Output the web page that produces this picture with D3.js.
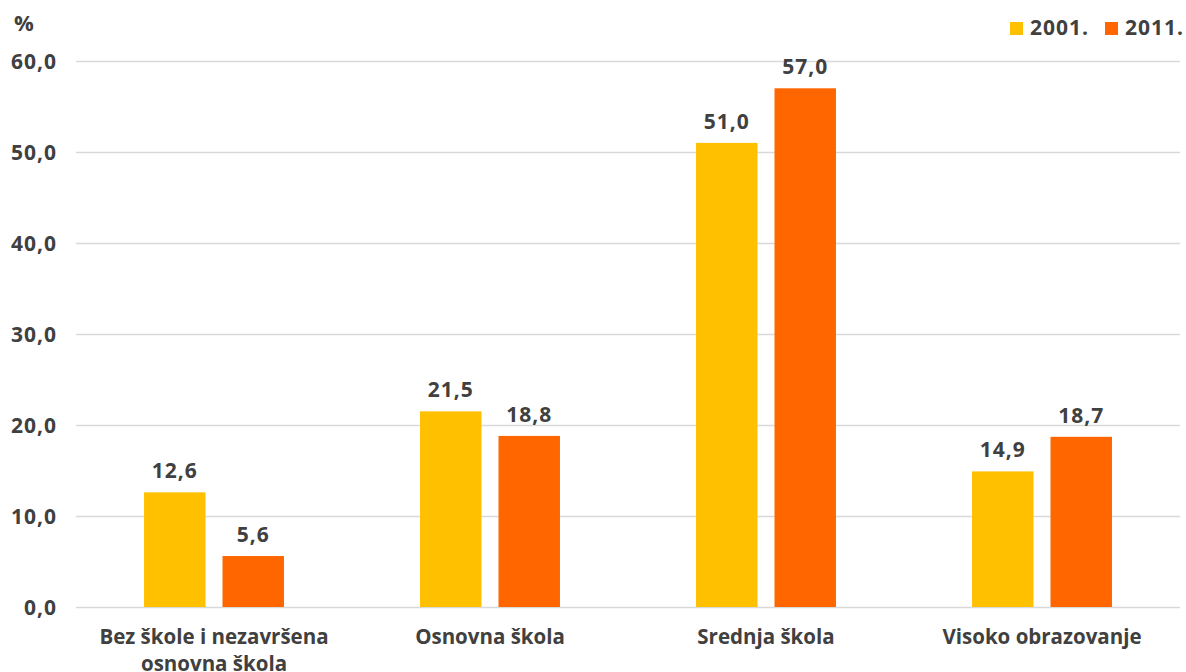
<!DOCTYPE html>
<html><head><meta charset="utf-8">
<script src="https://cdn.jsdelivr.net/npm/d3@7"></script>
<style>
body{margin:0;background:#fff;}
text{font-family:"Open Sans","DejaVu Sans",sans-serif;font-weight:700;fill:#404040;}
.num{font-size:21px;letter-spacing:1px;}
.cat{font-size:20.5px;}
</style></head>
<body><svg id="c" width="1186" height="672"></svg>
<script>
const categories = [["Bez škole i nezavršena","osnovna škola"],["Osnovna škola"],["Srednja škola"],["Visoko obrazovanje"]];
const series = ["2001.","2011."];
const values2001 = [12.6, 21.5, 51.0, 14.9];
const values2011 = [5.6, 18.8, 57.0, 18.7];
const yTicks = [0,10,20,30,40,50,60];
const colors = ["#FFC000","#FF6600"];

(function(){
const svg = d3.select("#c");
const pLeft = 76, pRight = 1180, pTop = 61, pBottom = 607;
const y = d3.scaleLinear().domain([0,60]).range([pBottom, pTop]);
const x0 = d3.scaleBand().domain(d3.range(categories.length)).range([pLeft,pRight]).paddingInner(0.493).paddingOuter(0.2465);
const x1 = d3.scaleBand().domain(series).range([0,x0.bandwidth()]).paddingInner(0.2166);
const fmt = v => d3.format(".1f")(v).replace(".",",");

const yAxis = d3.axisLeft(y).tickValues(yTicks).tickSize(-(pRight-pLeft)).tickFormat(fmt);
const g = svg.append("g").attr("transform",`translate(${pLeft},0)`).call(yAxis);
g.select(".domain").remove();
g.selectAll(".tick line").attr("stroke","#d9d9d9").attr("stroke-width",1.5);
g.selectAll(".tick text").attr("class","num").attr("x",-19).attr("dy","0.36em").attr("font-size",null).attr("font-family",null).attr("fill",null);
g.attr("font-size",null).attr("font-family",null);

svg.append("text").attr("class","num").attr("x",14).attr("y",31).style("font-size","22px").text("%");

const data = series.map((s,i)=>({s, vals: i===0?values2001:values2011, c: colors[i]}));
data.forEach(d=>{
  svg.append("g").selectAll("rect").data(d.vals).join("rect")
    .attr("x",(v,i)=>x0(i)+x1(d.s)).attr("width",x1.bandwidth())
    .attr("y",v=>y(v)).attr("height",v=>y(0)-y(v)).attr("fill",d.c);
  svg.append("g").selectAll("text").data(d.vals).join("text").attr("class","num")
    .attr("x",(v,i)=>x0(i)+x1(d.s)+x1.bandwidth()/2).attr("y",v=>y(v)-14)
    .attr("text-anchor","middle").text(fmt);
});

categories.forEach((lines,i)=>{
  const cx = x0(i)+x0.bandwidth()/2;
  const t = svg.append("text").attr("class","cat").attr("text-anchor","middle")
    .attr("x",cx).attr("y",644);
  lines.forEach((l,j)=>t.append("tspan").attr("x",cx).attr("dy",j?27:0).text(l));
});

const lx=[1010,1105];
series.forEach((s,i)=>{
  svg.append("rect").attr("x",lx[i]).attr("y",22).attr("width",13).attr("height",13).attr("fill",colors[i]);
  svg.append("text").attr("class","num").attr("x",lx[i]+20).attr("y",35).text(s);
});
})();
</script></body></html>
